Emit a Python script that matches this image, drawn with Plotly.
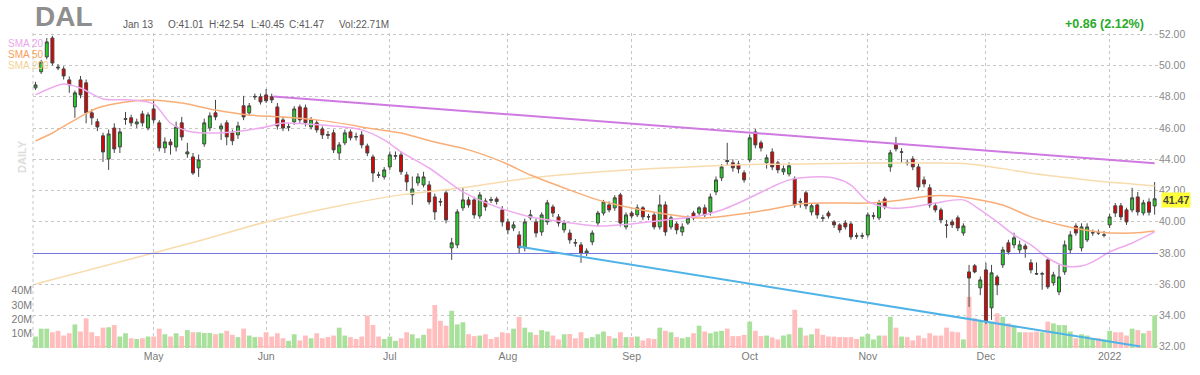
import pandas as pd
import plotly.graph_objects as go

# ---------------- data ----------------
holidays = ["2021-04-02", "2021-05-31", "2021-07-05", "2021-09-06", "2021-11-25", "2021-12-24"]
dates = [d for d in pd.bdate_range("2021-04-01", "2022-01-13") if d.strftime("%Y-%m-%d") not in holidays]

opens = [
    48.57, 49.60, 50.55, 51.76, 49.90, 49.78, 49.08, 47.35, 49.08, 48.89,
    46.97, 46.40, 45.50, 44.02, 46.00, 44.79, 46.55, 46.65, 46.26, 46.90,
    46.00, 47.22, 46.33, 44.73, 45.11, 44.79, 46.33, 44.34, 44.15, 43.45,
    44.98, 46.01, 46.97, 45.94, 46.33, 45.69, 45.56, 47.42, 46.97, 47.98,
    48.00, 48.12, 48.00, 47.35, 46.52, 46.05, 46.39, 47.35, 47.29, 46.07,
    46.33, 45.94, 45.58, 45.69, 44.40, 45.05, 45.75, 45.45, 45.56, 44.85,
    44.15, 43.00, 42.87, 43.51, 44.20, 44.28, 43.00, 41.72, 42.49, 42.36,
    42.36, 41.59, 41.30, 41.85, 38.33, 38.52, 40.89, 41.40, 41.40, 40.37,
    41.33, 41.42, 41.46, 40.76, 39.99, 39.60, 39.16, 38.33, 40.25, 39.99,
    39.35, 39.99, 40.95, 40.31, 39.48, 39.28, 38.67, 38.52, 38.00, 38.71,
    39.92, 40.56, 41.08, 40.89, 41.72, 39.67, 40.56, 40.44, 40.89, 40.33,
    40.44, 39.67, 41.08, 39.67, 39.86, 39.35, 39.92, 40.56, 40.56, 40.89,
    40.63, 41.91, 42.81, 43.92, 43.77, 43.70, 43.13, 43.96, 45.75, 45.05,
    43.77, 44.47, 43.77, 43.20, 43.06, 42.75, 41.25, 41.85, 40.63, 41.08,
    40.25, 40.56, 39.99, 39.80, 39.92, 39.86, 39.10, 39.08, 39.16, 40.35,
    40.25, 41.46, 43.51, 44.98, 44.45, 43.80, 44.02, 43.51, 42.68, 42.17,
    41.02, 40.76, 39.80, 39.99, 40.25, 39.28, 36.79, 37.18, 35.77, 36.92,
    34.49, 36.47, 37.24, 38.65, 38.52, 38.20, 38.45, 37.37, 36.68, 36.65,
    37.56, 36.09, 35.51, 36.79, 38.20, 39.73, 38.33, 38.84, 39.28, 39.30,
    39.14, 39.80, 41.02, 41.02, 40.76, 40.76, 41.59, 40.56, 41.27, 41.01,
]
highs = [
    48.95, 50.36, 51.76, 51.90, 50.10, 49.95, 49.30, 48.40, 49.33, 49.10,
    47.20, 46.60, 45.70, 45.90, 46.30, 46.00, 47.03, 46.85, 46.60, 47.10,
    47.00, 47.80, 46.50, 45.40, 45.30, 46.40, 46.71, 45.05, 44.40, 44.30,
    46.60, 47.00, 47.80, 46.30, 46.50, 45.90, 46.40, 48.06, 47.60, 48.20,
    48.20, 48.50, 48.20, 47.60, 46.70, 46.30, 47.40, 47.50, 47.50, 46.70,
    46.50, 46.10, 45.80, 45.90, 45.10, 45.90, 45.90, 45.70, 45.80, 45.00,
    44.30, 43.20, 43.50, 44.50, 44.50, 44.50, 43.20, 42.90, 43.10, 43.20,
    42.60, 41.80, 41.50, 42.10, 38.97, 40.80, 42.17, 41.60, 41.60, 41.90,
    41.50, 41.60, 41.60, 41.00, 40.20, 40.00, 39.40, 40.20, 40.76, 40.20,
    40.60, 41.40, 41.10, 40.50, 40.10, 39.50, 38.90, 38.70, 38.30, 39.45,
    40.70, 41.40, 41.30, 41.70, 41.85, 40.60, 40.70, 41.10, 41.00, 40.50,
    40.60, 41.72, 41.30, 40.40, 40.00, 39.90, 40.40, 40.70, 41.00, 41.10,
    41.80, 42.90, 43.70, 45.05, 44.00, 43.90, 43.30, 45.60, 45.94, 45.20,
    44.30, 44.70, 43.90, 43.60, 43.80, 42.90, 41.50, 42.00, 41.20, 41.20,
    40.45, 40.70, 40.10, 39.90, 40.10, 40.00, 39.30, 39.30, 40.60, 40.60,
    41.40, 41.60, 44.60, 45.43, 44.70, 44.00, 44.20, 43.70, 42.90, 42.40,
    41.20, 40.90, 40.12, 40.15, 40.40, 39.90, 37.24, 37.30, 36.50, 37.37,
    37.24, 36.60, 38.40, 38.85, 39.30, 38.80, 38.60, 37.60, 37.40, 36.80,
    37.70, 36.80, 37.24, 38.80, 39.40, 39.90, 39.90, 39.90, 39.50, 39.50,
    39.40, 40.50, 41.20, 41.20, 40.90, 42.17, 41.90, 41.40, 41.50, 42.54,
]
lows = [
    48.44, 49.46, 50.40, 50.00, 49.70, 49.10, 48.25, 46.65, 47.90, 46.30,
    46.20, 45.80, 43.83, 43.32, 44.40, 44.40, 46.20, 46.10, 46.00, 46.10,
    45.85, 46.30, 44.50, 44.40, 44.30, 44.50, 45.20, 44.10, 43.00, 42.87,
    44.80, 45.80, 46.50, 45.24, 44.90, 44.90, 45.30, 46.50, 46.80, 47.80,
    47.50, 47.60, 47.60, 45.90, 45.80, 45.80, 46.20, 46.30, 46.10, 45.90,
    45.70, 45.30, 45.30, 44.40, 43.96, 44.90, 45.20, 45.20, 44.70, 44.20,
    42.55, 42.80, 42.70, 43.30, 44.00, 43.00, 42.00, 41.08, 42.30, 42.20,
    41.10, 40.12, 41.00, 39.90, 37.56, 38.30, 40.70, 40.90, 40.20, 40.20,
    40.70, 41.20, 41.10, 39.70, 39.20, 39.40, 38.00, 38.10, 40.10, 39.00,
    39.10, 39.80, 40.30, 39.70, 39.30, 38.60, 38.40, 37.37, 37.80, 38.50,
    39.70, 40.40, 40.60, 40.70, 39.70, 39.50, 40.20, 40.30, 40.10, 40.10,
    39.50, 39.50, 39.10, 39.50, 39.20, 39.10, 39.80, 40.10, 40.40, 40.30,
    40.40, 41.70, 42.60, 43.60, 43.20, 43.10, 42.50, 43.80, 44.70, 44.50,
    43.40, 43.30, 43.10, 43.00, 42.90, 40.90, 40.90, 40.80, 40.40, 40.20,
    40.00, 40.20, 39.60, 39.30, 39.50, 38.85, 38.90, 38.90, 39.00, 40.15,
    40.10, 40.80, 43.20, 44.50, 43.77, 43.60, 43.30, 42.00, 42.20, 40.90,
    40.60, 39.90, 38.97, 39.60, 39.40, 39.10, 34.55, 36.70, 35.30, 33.45,
    33.72, 35.30, 37.04, 37.90, 38.30, 38.00, 37.70, 36.70, 36.60, 35.65,
    35.70, 35.90, 35.30, 36.60, 38.00, 39.10, 38.10, 38.70, 39.10, 39.15,
    39.00, 39.60, 40.30, 40.10, 39.80, 40.60, 40.40, 40.40, 40.40, 40.45,
]
closes = [
    48.76, 50.23, 51.51, 50.16, 49.85, 49.33, 48.76, 48.25, 48.12, 46.97,
    46.65, 46.07, 44.47, 45.62, 44.66, 45.75, 46.60, 46.33, 46.39, 46.33,
    46.84, 46.52, 44.73, 45.11, 44.92, 46.07, 45.43, 44.47, 43.12, 43.96,
    46.33, 46.78, 46.71, 46.13, 45.43, 45.18, 46.13, 46.71, 47.42, 48.02,
    47.67, 47.74, 47.80, 46.13, 46.00, 46.08, 47.22, 46.52, 46.33, 46.52,
    45.88, 45.56, 45.54, 44.60, 44.92, 45.69, 45.37, 45.43, 44.92, 44.40,
    43.12, 42.98, 43.32, 44.28, 44.22, 43.20, 42.55, 42.10, 42.87, 42.87,
    41.27, 40.63, 41.27, 40.12, 38.65, 40.63, 41.40, 41.08, 40.44, 41.72,
    40.95, 41.38, 41.30, 39.99, 39.48, 39.80, 38.33, 39.99, 40.44, 39.28,
    40.44, 41.21, 40.56, 39.92, 39.92, 38.84, 38.64, 38.00, 38.13, 39.28,
    40.56, 41.27, 40.76, 41.53, 39.92, 40.44, 40.37, 40.89, 40.31, 40.31,
    39.67, 41.08, 39.35, 40.25, 39.48, 39.67, 40.25, 40.25, 40.89, 40.44,
    41.59, 42.68, 43.51, 43.86, 43.45, 43.38, 42.68, 45.37, 44.92, 44.72,
    44.09, 43.51, 43.32, 43.39, 43.58, 41.08, 41.30, 41.02, 41.02, 40.44,
    40.23, 40.37, 39.80, 39.48, 39.67, 39.03, 39.08, 39.10, 40.44, 40.38,
    41.21, 40.95, 44.41, 44.66, 44.47, 43.77, 43.51, 42.23, 42.42, 41.08,
    40.76, 40.12, 39.78, 39.80, 39.60, 39.73, 36.40, 36.79, 36.28, 33.59,
    36.73, 35.96, 38.20, 38.07, 38.97, 38.52, 38.26, 36.92, 36.66, 36.67,
    35.83, 36.60, 36.47, 38.52, 39.16, 39.28, 39.67, 39.67, 39.30, 39.28,
    39.16, 40.31, 40.56, 40.31, 39.99, 41.53, 40.63, 41.21, 40.61, 41.47,
]
volume_m = [
    8.0, 13.5, 13.5, 11.0, 12.0, 8.7, 10.3, 16.5, 11.5, 20.7,
    11.0, 8.3, 14.2, 14.5, 16.0, 8.0, 10.3, 6.8, 6.3, 6.8,
    8.0, 8.0, 13.5, 9.6, 8.0, 10.3, 8.3, 12.5, 11.0, 11.0,
    10.5, 10.5, 9.6, 10.3, 12.0, 9.2, 7.6, 13.5, 8.7, 7.6,
    7.6, 11.0, 8.0, 10.3, 6.8, 5.0, 9.6, 5.3, 8.7, 6.8,
    10.3, 6.8, 7.6, 8.7, 14.2, 8.7, 7.6, 6.3, 8.0, 22.6,
    16.0, 8.0, 6.3, 8.0, 5.0, 6.8, 11.0, 9.6, 6.8, 9.2,
    13.5, 30.0, 19.0, 15.6, 26.0, 16.5, 18.0, 9.6, 8.3, 8.7,
    9.6, 6.3, 7.6, 11.0, 10.3, 13.5, 21.8, 14.2, 11.0, 9.2,
    12.5, 11.5, 8.7, 6.0, 9.6, 9.8, 6.8, 11.0, 6.8, 7.6,
    9.6, 11.5, 8.3, 6.8, 11.0, 7.6, 7.6, 8.0, 5.3, 6.8,
    6.3, 14.2, 12.0, 11.0, 7.6, 6.8, 7.6, 10.3, 15.6, 11.5,
    10.3, 11.5, 12.0, 13.5, 8.3, 8.3, 9.2, 18.4, 12.0, 8.3,
    8.7, 7.3, 6.0, 8.7, 9.6, 26.7, 14.2, 8.7, 9.6, 13.5,
    9.2, 8.0, 8.0, 7.6, 7.6, 7.6, 6.3, 8.0, 9.8, 6.0,
    8.7, 8.7, 21.8, 14.2, 8.0, 7.6, 5.3, 8.7, 6.8, 10.3,
    8.7, 8.7, 14.2, 11.5, 11.0, 6.0, 35.7, 20.7, 19.3, 17.2,
    18.4, 24.2, 21.8, 17.2, 14.7, 11.0, 11.0, 11.0, 11.5, 11.0,
    18.4, 17.2, 16.0, 16.0, 11.5, 6.8, 9.6, 8.7, 6.3, 6.8,
    6.0, 12.0, 11.0, 11.0, 8.7, 13.5, 12.5, 10.3, 12.0, 22.71,
]

# moving averages (trading-day index, price)
sma20_idx = [0, 5, 8, 12, 17, 21, 24, 27, 30, 35, 41, 44, 48, 53, 58, 62, 65, 70, 76, 82, 88, 94, 100,
             106, 112, 118, 122, 125, 128, 131, 134, 138, 142, 145, 148, 152, 156, 160, 165, 168, 171,
             174, 177, 180, 183, 186, 188, 191, 195, 199]
sma20_val = [48.12, 48.82, 48.56, 47.86, 47.80, 47.54, 46.32, 45.81, 45.68, 45.75, 46.07, 46.32, 46.26,
             46.13, 45.88, 45.24, 44.47, 43.44, 41.91, 40.95, 40.31, 39.99, 39.73, 39.86, 40.11, 40.37,
             40.75, 41.20, 41.71, 42.23, 42.68, 42.87, 42.80, 42.35, 41.30, 40.88, 40.95, 41.20, 41.40,
             40.76, 39.99, 39.16, 38.52, 37.68, 37.17, 37.17, 37.43, 38.07, 38.64, 39.35]
sma50_idx = [0, 3, 7, 11, 16, 20, 26, 32, 38, 44, 50, 56, 59, 65, 71, 77, 83, 88, 94, 100, 106, 112, 118,
             124, 130, 136, 142, 148, 154, 159, 163, 166, 172, 177, 183, 189, 195, 199]
sma50_val = [45.17, 45.68, 46.52, 47.28, 47.67, 47.80, 47.60, 47.15, 46.83, 46.71, 46.52, 46.20, 46.00,
             45.68, 45.10, 44.60, 43.83, 42.99, 42.16, 41.40, 40.88, 40.50, 40.24, 40.43, 40.75, 41.14,
             41.20, 41.20, 41.40, 41.65, 41.65, 41.52, 41.07, 40.31, 39.73, 39.35, 39.28, 39.41]
sma200_idx = [0, 21, 29, 41, 53, 65, 77, 88, 100, 112, 124, 136, 148, 160, 166, 172, 177, 183, 189, 195, 199]
sma200_val = [36.02, 38.00, 38.77, 39.99, 40.95, 41.72, 42.23, 42.80, 43.19, 43.44, 43.64, 43.70, 43.76,
              43.76, 43.70, 43.40, 43.10, 42.85, 42.60, 42.42, 42.29]

# drawn lines (trading-day position, price)
res_x, res_y = [42.3, 199.0], [48.01, 43.74]        # violet resistance
sup_x, sup_y = [85.9, 196.5], [38.41, 32.01]        # blue support
hline_level = 37.97

month_labels = ["May", "Jun", "Jul", "Aug", "Sep", "Oct", "Nov", "Dec", "2022"]
price_ticks = [32, 34, 36, 38, 40, 42, 44, 46, 48, 50, 52]
vol_ticks = [10, 20, 30, 40]
vol_ticktext = ["10M", "20M", "30M", "40M"]

# ---------------- figure ----------------
xs = list(range(len(dates)))
month_idx = [i for i in range(1, len(dates)) if dates[i].month != dates[i - 1].month]

PL, PR, PT, PB = 33, 1158, 33, 348


def pxx(p):
    return (p - PL) / (PR - PL)


def pyy(p):
    return (PB - p) / (PB - PT)


FONT = "Arial, 'Liberation Sans', Helvetica, sans-serif"
GRID = "#c6c6c6"

fig = go.Figure()

vol_colors = ["#a8e09c" if c >= o else "#ffbdbd" for o, c in zip(opens, closes)]
fig.add_trace(go.Bar(x=xs, y=[v * 1e6 for v in volume_m], marker=dict(color=vol_colors, line=dict(width=0)),
                     yaxis="y", showlegend=False, hoverinfo="skip"))

fig.add_trace(go.Scatter(x=sma200_idx, y=sma200_val, mode="lines", yaxis="y2",
                         line=dict(color="#f8dcae", width=1.5, shape="spline", smoothing=0.8),
                         showlegend=False, hoverinfo="skip"))
fig.add_trace(go.Scatter(x=sma50_idx, y=sma50_val, mode="lines", yaxis="y2",
                         line=dict(color="#f9ae78", width=1.5, shape="spline", smoothing=0.8),
                         showlegend=False, hoverinfo="skip"))
fig.add_trace(go.Scatter(x=sma20_idx, y=sma20_val, mode="lines", yaxis="y2",
                         line=dict(color="#eeaaee", width=1.5, shape="spline", smoothing=0.8),
                         showlegend=False, hoverinfo="skip"))
fig.add_trace(go.Scatter(x=[-0.45, 199.6], y=[hline_level, hline_level], mode="lines", yaxis="y2",
                         line=dict(color="#7474dc", width=1), showlegend=False, hoverinfo="skip"))
fig.add_trace(go.Scatter(x=res_x, y=res_y, mode="lines", yaxis="y2",
                         line=dict(color="#cf7ae0", width=2), showlegend=False, hoverinfo="skip"))
fig.add_trace(go.Scatter(x=sup_x, y=sup_y, mode="lines", yaxis="y2",
                         line=dict(color="#4fb3e8", width=2), showlegend=False, hoverinfo="skip"))

fig.add_trace(go.Candlestick(
    x=xs, open=opens, high=highs, low=lows, close=closes, yaxis="y2",
    increasing=dict(fillcolor="#22d422", line=dict(color="#454545", width=1)),
    decreasing=dict(fillcolor="#e00000", line=dict(color="#454545", width=1)),
    whiskerwidth=0, showlegend=False, hoverinfo="skip"))

annots = []


def ann(text, x, y, size=10, color="#5a5a5a", xanchor="left", bold=False, **kw):
    annots.append(dict(text=("<b>%s</b>" % text) if bold else text, x=pxx(x), y=pyy(y),
                       xref="paper", yref="paper", xanchor=xanchor, yanchor="middle", showarrow=False,
                       font=dict(family=FONT, size=size, color=color), **kw))


ann("DAL", 33, 17, size=28, color="#8e8e8e", bold=True)
ann("Jan 13", 121, 24.5)
ann("O:41.01", 166, 24.5)
ann("H:42.54", 207, 24.5)
ann("L:40.45", 249, 24.5)
ann("C:41.47", 287, 24.5)
ann("Vol:22.71M", 337, 24.5)
ann("+0.86 (2.12%)", 1146, 24, size=12.5, color="#2aaa2a", xanchor="right", bold=True)
ann("SMA 20", 6, 43, size=10, color="#eaa6ea")
ann("SMA 50", 6, 54, size=10, color="#f7a05c")
ann("SMA 200", 6, 65.5, size=10, color="#f2d395")
ann("DAILY", 22, 157, size=11, color="#dddddd", xanchor="center", bold=True, textangle=-90)
ann("41.47", 1161, 199.5, size=10.5, color="#444444", bold=True, bgcolor="#ffff3a", borderpad=1)

fig.update_layout(
    width=1200, height=375,
    margin=dict(l=PL, r=1200 - PR, t=PT, b=375 - PB),
    paper_bgcolor="white", plot_bgcolor="white",
    font=dict(family=FONT, size=10.5, color="#7a7a7a"),
    bargap=0.15, boxgap=0.25, showlegend=False,
    xaxis=dict(range=[-0.45, 199.6], tickvals=month_idx, ticktext=month_labels, showgrid=True,
               gridcolor=GRID, griddash="dot", gridwidth=1, zeroline=False, showline=False,
               ticks="", tickfont=dict(size=10.5, color="#7a7a7a"), rangeslider=dict(visible=False),
               fixedrange=True),
    yaxis=dict(range=[0, 220e6], side="left", tickvals=[v * 1e6 for v in vol_ticks], ticktext=vol_ticktext,
               showgrid=False, zeroline=False, ticks="", tickfont=dict(size=10.5, color="#7a7a7a")),
    yaxis2=dict(range=[31.92, 52.08], side="right", overlaying="y", tickvals=price_ticks,
                tickformat=".2f", showgrid=True, gridcolor=GRID, griddash="dot", gridwidth=1,
                zeroline=False, ticks="", tickfont=dict(size=10.5, color="#8a8a8a")),
    annotations=annots,
    shapes=[dict(type="line", xref="paper", yref="paper", x0=0, x1=0, y0=0, y1=1,
                 line=dict(color=GRID, width=1, dash="dot"))],
    hovermode=False,
)

fig.write_html("out.html", config={"displayModeBar": False},
               post_script="document.body.style.margin='0';document.body.style.overflow='hidden';")
